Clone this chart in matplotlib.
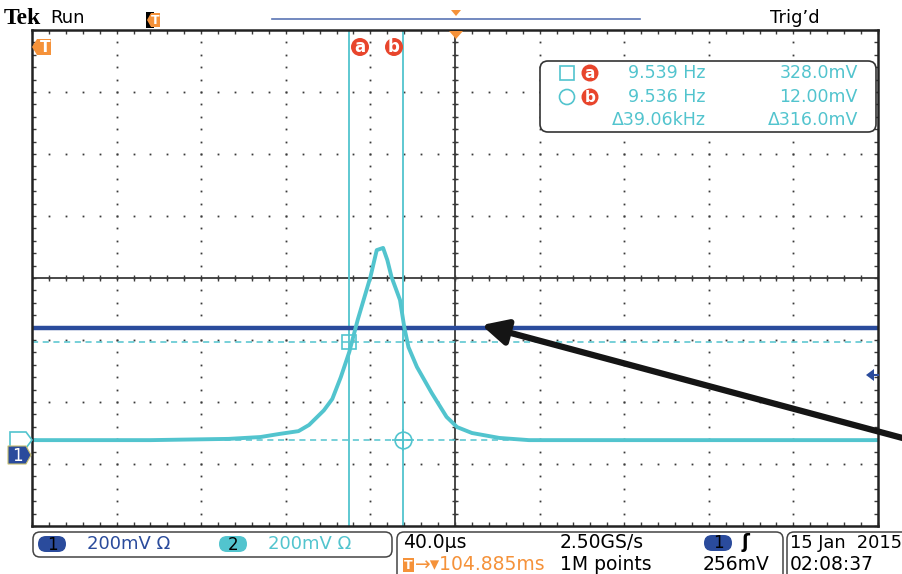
import numpy as np
import matplotlib.pyplot as plt
from matplotlib import transforms
from matplotlib.patches import FancyBboxPatch, Rectangle, Circle, Polygon

W, H = 903, 574

# экран осциллографа: 10 x 8 делений, 40 мкс/дел, 200 мВ/дел
US_DIV = 40.0
MV_DIV = 200.0

# канал 2 - импульс (время в мкс от центра экрана, напряжение в мВ от центра)
ch2_t = [-200, -144, -107, -92, -83, -74, -69, -62, -58, -54, -50, -46, -40, -37,
         -34, -32, -30, -26, -24, -22, -18, -11, -4, 1, 8, 21, 35, 200]
ch2_mv = [-523, -523, -519, -513, -503, -494, -474, -427, -390, -320, -239, -135, 3, 90,
          97, 58, 3, -71, -158, -223, -287, -371, -448, -481, -500, -516, -523, -523]

# канал 1 - постоянный уровень
ch1_level = -161

# курсоры a и b
cursor_t = [-49.9, -24.4]
cursor_mv = [-206, -523]
cursor_names = ['a', 'b']
readout_freq = ['9.539 Hz', '9.536 Hz', 'Δ39.06kHz']
readout_volt = ['328.0mV', '12.00mV', 'Δ316.0mV']

CYAN = '#52c4ce'
BLUE = '#2a4b9c'
ORANGE = '#f5923a'
RED = '#e8452c'
DARK = '#3a3a3a'

fig = plt.figure(figsize=(W / 100, H / 100), dpi=100)
# пиксельные координаты (начало сверху слева)
px = transforms.Affine2D().scale(1 / W, -1 / H).translate(0, 1) + fig.transFigure

ax = fig.add_axes([32 / W, 1 - 526 / H, 846 / W, 496 / H])
ax.set_xlim(-5 * US_DIV, 5 * US_DIV)
ax.set_ylim(-4 * MV_DIV, 4 * MV_DIV)

# сетка из точек
for i in range(1, 10):
    xg = -5 * US_DIV + i * US_DIV
    yy = np.arange(-4 * MV_DIV, 4 * MV_DIV + 1, MV_DIV / 5)
    ax.plot([xg] * len(yy), yy, ls='none', marker='s', ms=1.3, color=DARK, mew=0)
for j in range(1, 8):
    yg = -4 * MV_DIV + j * MV_DIV
    xx = np.arange(-5 * US_DIV, 5 * US_DIV + 1, US_DIV / 5)
    ax.plot(xx, [yg] * len(xx), ls='none', marker='s', ms=1.3, color=DARK, mew=0)

# центральный крест с засечками
ax.axvline(0, color=DARK, lw=1.3)
ax.axhline(0, color=DARK, lw=1.3)
xx = np.arange(-5 * US_DIV, 5 * US_DIV + 1, US_DIV / 5)
ax.plot(xx, [0] * len(xx), ls='none', marker='|', ms=5, color=DARK, mew=1)
yy = np.arange(-4 * MV_DIV, 4 * MV_DIV + 1, MV_DIV / 5)
ax.plot([0] * len(yy), yy, ls='none', marker='_', ms=5, color=DARK, mew=1)

ax.set_xticks(xx)
ax.set_yticks(yy)
ax.tick_params(direction='in', length=3, width=1, color=DARK, top=True, right=True,
               labelbottom=False, labelleft=False)
for s in ax.spines.values():
    s.set_linewidth(1.8)
    s.set_color('#222222')

# курсоры
for t in cursor_t:
    ax.axvline(t, color=CYAN, lw=1.3)
for v in cursor_mv:
    ax.axhline(v, color=CYAN, lw=1.1, ls=(0, (4, 3)))

# сигналы
ax.axhline(ch1_level, color=BLUE, lw=3.2)
ax.plot(ch2_t, ch2_mv, color=CYAN, lw=2.8)

ax.plot(cursor_t[0], cursor_mv[0], marker='s', ms=10, mfc='none', mec=CYAN, mew=1.2)
ax.plot(cursor_t[1], cursor_mv[1], marker='o', ms=12, mfc='none', mec=CYAN, mew=1.2)
ax.plot(cursor_t[1], cursor_mv[1], marker='+', ms=16, mec=CYAN, mew=1.2)

# стрелка-указатель
ax.annotate('', xy=(12.5, -152), xycoords='data', xytext=(910, 440), textcoords=px,
            arrowprops=dict(arrowstyle='-|>', lw=4.5, color='#151515',
                            mutation_scale=38, shrinkA=0, shrinkB=0),
            annotation_clip=False)

# маркеры a и b
for name, xc in zip(cursor_names, [360, 394]):
    fig.patches.append(Circle((xc, 47), 9, transform=px, fc=RED, ec='none'))
    fig.text(xc, 47.5, name, transform=px, color='white', fontsize=12, fontweight='bold',
             ha='center', va='center')

# маркеры триггера
def t_icon(x, y, w=14, h=16):
    pts = [(x - w / 2 - 5, y), (x - w / 2, y - h / 2), (x + w / 2, y - h / 2),
           (x + w / 2, y + h / 2), (x - w / 2, y + h / 2)]
    fig.patches.append(Polygon(pts, closed=True, transform=px, fc=ORANGE, ec='none'))
    fig.text(x + 1, y + 0.5, 'T', transform=px, color='white', fontsize=11,
             fontweight='bold', ha='center', va='center')

t_icon(44, 47)
fig.patches.append(Polygon([(449, 31), (463, 31), (456, 39)], closed=True, transform=px,
                           fc=ORANGE, ec='none'))

# окно результатов курсоров
fig.patches.append(FancyBboxPatch((540, 61), 336, 71, boxstyle='round,pad=0,rounding_size=8',
                                  transform=px, fc='white', ec='#333333', lw=1.2))
rows_y = [73, 97, 120]
fig.patches.append(Rectangle((560, 66), 14, 14, transform=px, fc='none', ec=CYAN, lw=1.2))
fig.patches.append(Circle((567, 97), 7.5, transform=px, fc='none', ec=CYAN, lw=1.2))
for name, yc in zip(cursor_names, rows_y[:2]):
    fig.patches.append(Circle((590, yc), 8.5, transform=px, fc=RED, ec='none'))
    fig.text(590, yc + 0.5, name, transform=px, color='white', fontsize=11, fontweight='bold',
             ha='center', va='center')
for f, v, yc in zip(readout_freq, readout_volt, rows_y):
    fig.text(706, yc, f, transform=px, color=CYAN, fontsize=12.5, ha='right', va='center')
    fig.text(858, yc, v, transform=px, color=CYAN, fontsize=12.5, ha='right', va='center')

# левые маркеры каналов
fig.patches.append(Polygon([(10, 432), (26, 432), (32, 440), (26, 448), (10, 448)], closed=True,
                           transform=px, fc='white', ec=CYAN, lw=1.2))
fig.patches.append(Polygon([(8, 446), (26, 446), (31, 455), (26, 464), (8, 464)], closed=True,
                           transform=px, fc=BLUE, ec='#c8c070', lw=0.8))
fig.text(17, 456, '1', transform=px, color='white', fontsize=12, ha='center', va='center')

# правый маркер уровня запуска
fig.patches.append(Polygon([(866, 375), (874, 369), (874, 381)], closed=True, transform=px,
                           fc=BLUE, ec='none'))
fig.add_artist(plt.Line2D([872, 878], [375, 375], transform=px, color=BLUE, lw=1.5))

# верхняя строка
fig.text(4, 18, 'Tek', transform=px, fontsize=17, fontweight='bold', family='Liberation Serif',
         va='center', ha='left')
fig.text(50, 18, 'Run', transform=px, fontsize=13, va='center', ha='left')
fig.patches.append(Rectangle((146, 12), 8, 16, transform=px, fc='black', ec='none'))
fig.patches.append(Polygon([(147, 20), (151, 13), (160, 13), (160, 27), (151, 27)], closed=True,
                           transform=px, fc=ORANGE, ec='none'))
fig.text(155, 20.5, 'T', transform=px, color='white', fontsize=9, fontweight='bold',
         ha='center', va='center')
fig.add_artist(plt.Line2D([272, 640], [19, 19], transform=px, color='#5a74b4', lw=1.2))
fig.patches.append(Polygon([(451, 10), (461, 10), (456, 16)], closed=True, transform=px,
                           fc=ORANGE, ec='none'))
fig.text(770, 18, 'Trig\u2019d', transform=px, fontsize=13, va='center', ha='left')

# нижняя панель
fig.patches.append(FancyBboxPatch((33, 532), 359, 25, boxstyle='round,pad=0,rounding_size=7',
                                  transform=px, fc='white', ec='#444444', lw=1.1))
fig.patches.append(FancyBboxPatch((397, 532), 386, 60, boxstyle='round,pad=0,rounding_size=7',
                                  transform=px, fc='white', ec='#444444', lw=1.1))
fig.patches.append(FancyBboxPatch((787, 532), 140, 60, boxstyle='round,pad=0,rounding_size=7',
                                  transform=px, fc='white', ec='#444444', lw=1.1))

def pill(x, y, txt, fc):
    fig.patches.append(FancyBboxPatch((x - 14, y - 8), 28, 16, boxstyle='round,pad=0,rounding_size=8',
                                      transform=px, fc=fc, ec='none'))
    fig.text(x, y + 0.5, txt, transform=px, color='black', fontsize=12, ha='center', va='center')

pill(52, 544, '1', BLUE)
fig.text(87, 544, '200mV \u03a9', transform=px, color=BLUE, fontsize=13, va='center')
pill(233, 544, '2', CYAN)
fig.text(268, 544, '200mV \u03a9', transform=px, color=CYAN, fontsize=13, va='center')

fig.text(403, 543, '40.0\u00b5s', transform=px, fontsize=13.5, va='center')
fig.text(560, 543, '2.50GS/s', transform=px, fontsize=13.5, va='center')
pill(718, 543, '1', BLUE)
fig.text(742, 543, '\u0283', transform=px, fontsize=13.5, va='center', fontweight='bold')
fig.patches.append(Rectangle((403, 558), 11, 14, transform=px, fc=ORANGE, ec='none'))
fig.text(408.5, 565.5, 'T', transform=px, color='white', fontsize=9, fontweight='bold',
         ha='center', va='center')
fig.text(415, 565, '\u2192\u25be104.885ms', transform=px, color=ORANGE, fontsize=13.5,
         va='center')
fig.text(560, 565, '1M points', transform=px, fontsize=13.5, va='center')
fig.text(770, 565, '256mV', transform=px, fontsize=13.5, va='center', ha='right')
fig.text(790, 543, '15 Jan  2015', transform=px, fontsize=12.8, va='center')
fig.text(790, 565, '02:08:37', transform=px, fontsize=13.5, va='center')

fig.savefig('out.png', dpi=100)
